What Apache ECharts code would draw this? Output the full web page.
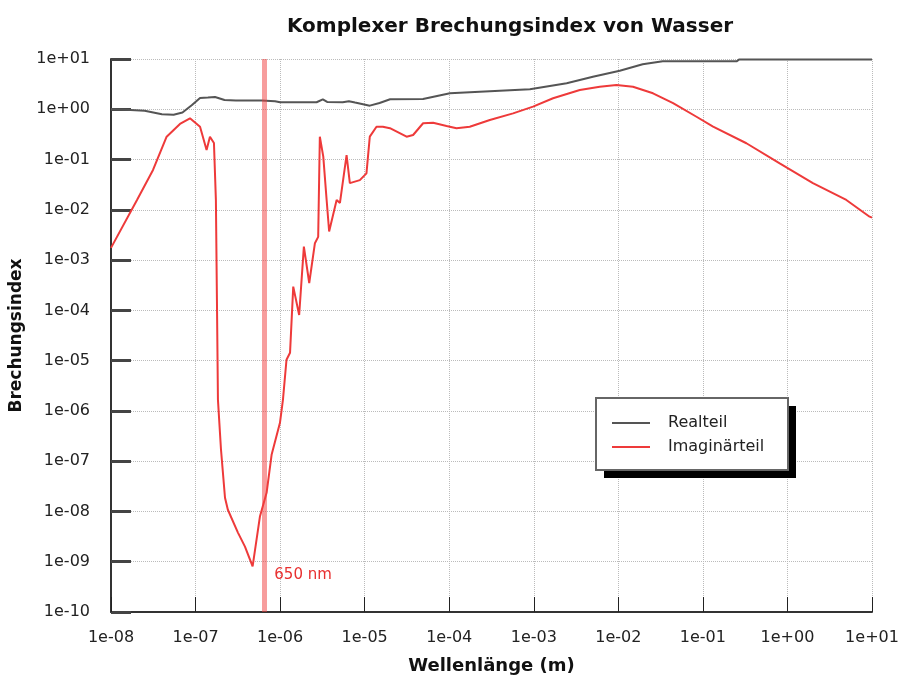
<!DOCTYPE html>
<html>
<head>
<meta charset="utf-8">
<script src="https://cdn.jsdelivr.net/npm/echarts@6/dist/echarts.min.js"></script>
<style>
  html, body { margin: 0; padding: 0; background: #fff; }
  #chart { width: 901px; height: 677px; }
</style>
</head>
<body>
<div id="chart"></div>
<script>
// Wellenlänge (m) / Realteil
const realX = [1e-8, 1.5e-8, 2.5e-8, 4.0e-8, 5.5e-8, 7.0e-8, 9.0e-8, 1.13e-7, 1.4e-7, 1.7e-7,
  2.2e-7, 3.0e-7, 6.0e-7, 8.7e-7, 1.0e-6, 2.7e-6, 3.2e-6, 3.6e-6, 5.5e-6, 6.5e-6,
  7.7e-6, 1.15e-5, 1.5e-5, 2.0e-5, 4.9e-5, 1.02e-4, 2.3e-4, 9.0e-4, 2.45e-3, 5.0e-3,
  1.04e-2, 1.94e-2, 3.35e-2, 0.25, 0.27, 10];
const realY = [1.0, 0.98, 0.93, 0.8, 0.78, 0.86, 1.2, 1.68, 1.72, 1.76,
  1.53, 1.49, 1.49, 1.45, 1.38, 1.38, 1.58, 1.4, 1.38, 1.45,
  1.36, 1.18, 1.33, 1.58, 1.6, 2.08, 2.24, 2.5, 3.29, 4.45,
  5.85, 7.85, 9.0, 9.0, 9.8, 9.8];

// Wellenlänge (m) / Imaginärteil
const imagX = [1e-8, 2.03e-8, 3.14e-8, 4.55e-8, 6.54e-8, 8.59e-8, 1.13e-7, 1.35e-7, 1.48e-7, 1.65e-7,
  1.74e-7, 1.79e-7, 1.84e-7, 2.0e-7, 2.23e-7, 2.41e-7, 3.17e-7, 3.84e-7, 4.73e-7, 5.77e-7,
  6.92e-7, 7.93e-7, 9.96e-7, 1.08e-6, 1.19e-6, 1.31e-6, 1.43e-6, 1.68e-6, 1.91e-6, 2.21e-6,
  2.58e-6, 2.82e-6, 2.95e-6, 3.24e-6, 3.55e-6, 3.8e-6, 4.66e-6, 5.1e-6, 6.11e-6, 6.68e-6,
  8.77e-6, 1.05e-5, 1.15e-5, 1.38e-5, 1.64e-5, 1.99e-5, 3.13e-5, 3.74e-5, 4.91e-5, 6.45e-5,
  9.3e-5, 1.22e-4, 1.75e-4, 3.02e-4, 5.69e-4, 9.8e-4, 1.69e-3, 3.5e-3, 6.03e-3, 9.5e-3,
  1.49e-2, 2.57e-2, 4.44e-2, 8.4e-2, 0.132, 0.327, 0.81, 2.0, 4.97, 9.37, 10];
const imagY = [1.75e-3, 1.57e-2, 6.2e-2, 0.285, 0.51, 0.66, 0.45, 0.155, 0.285, 0.214,
  1.57e-2, 1.6e-4, 1.66e-6, 1.69e-7, 1.87e-8, 1.08e-8, 3.8e-9, 2.0e-9, 8.1e-10, 7.9e-9,
  2.35e-8, 1.34e-7, 5.8e-7, 1.66e-6, 1.04e-5, 1.43e-5, 2.97e-4, 8.1e-5, 1.85e-3, 3.5e-4,
  2.17e-3, 2.9e-3, 0.285, 0.114, 1.57e-2, 3.7e-3, 1.57e-2, 1.37e-2, 0.123, 3.4e-2,
  3.9e-2, 5.3e-2, 0.285, 0.45, 0.45, 0.42, 0.285, 0.308, 0.527, 0.54,
  0.466, 0.42, 0.45, 0.61, 0.83, 1.13, 1.66, 2.42, 2.81, 3.04,
  2.81, 2.08, 1.32, 0.71, 0.45, 0.211, 8.4e-2, 3.4e-2, 1.57e-2, 7.3e-3, 7.0e-3];

const markerWavelength = 6.5e-7;
const markerLabel = '650 nm';
const yMin = 1e-10;
const yMax = 10;

const fontFamily = '"DejaVu Sans", Verdana, sans-serif';

const fmtExp = (v) => {
  const e = Math.round(Math.log10(v));
  return '1e' + (e < 0 ? '-' : '+') + String(Math.abs(e)).padStart(2, '0');
};

const pairs = (xs, ys) => xs.map((x, i) => [x, ys[i]]);

const chart = echarts.init(document.getElementById('chart'));

const option = {
  backgroundColor: '#fff',
  animation: false,
  title: {
    text: 'Komplexer Brechungsindex von Wasser',
    left: 505,
    textAlign: 'center',
    top: 12,
    textStyle: { fontFamily, fontSize: 20, fontWeight: 'bold', color: '#111' }
  },
  grid: { left: 111, right: 29, top: 59, bottom: 65, containLabel: false, outerBoundsMode: 'none' },
  // legend frame with its hard shadow
  graphic: [
    { type: 'rect', z: 10, shape: { x: 604, y: 406, width: 192, height: 72 }, style: { fill: '#000' } },
    { type: 'rect', z: 11, shape: { x: 596, y: 398, width: 192, height: 72 }, style: { fill: '#fff', stroke: '#666', lineWidth: 2 } }
  ],
  legend: {
    orient: 'vertical',
    left: 612,
    top: 415,
    z: 20,
    data: ['Realteil', 'Imaginärteil'],
    icon: 'rect',
    itemWidth: 38,
    itemHeight: 2,
    itemGap: 8,
    padding: 0,
    textStyle: { fontFamily, fontSize: 16, lineHeight: 16, color: '#222', padding: [0, 0, 0, 13] }
  },
  xAxis: {
    type: 'log',
    logBase: 10,
    min: 1e-8,
    max: 10,
    interval: 1,
    name: 'Wellenlänge (m)',
    nameLocation: 'middle',
    nameGap: 45,
    nameTextStyle: { fontFamily, fontSize: 18, fontWeight: 'bold', color: '#111' },
    axisLine: { lineStyle: { color: '#333', width: 2 } },
    axisTick: { inside: true, length: 15, lineStyle: { color: '#222', width: 1 } },
    axisLabel: { formatter: fmtExp, fontFamily, fontSize: 16, color: '#222', margin: 18 },
    splitLine: { show: true, lineStyle: { color: '#bbb', type: 'dotted', width: 1 } }
  },
  yAxis: {
    type: 'log',
    logBase: 10,
    min: yMin,
    max: yMax,
    interval: 1,
    name: 'Brechungsindex',
    nameLocation: 'middle',
    nameGap: 83,
    nameTextStyle: { fontFamily, fontSize: 17, fontWeight: 'bold', color: '#111' },
    axisLine: { show: true, lineStyle: { color: '#333', width: 2 } },
    axisTick: { show: true, inside: true, length: 20, lineStyle: { color: '#444', width: 3 } },
    axisLabel: { formatter: fmtExp, fontFamily, fontSize: 16, color: '#222', margin: 21 },
    splitLine: { show: true, lineStyle: { color: '#bbb', type: 'dotted', width: 1 } }
  },
  series: [
    {
      name: 'Realteil',
      type: 'line',
      data: pairs(realX, realY),
      showSymbol: false,
      color: '#555',
      lineStyle: { color: '#555', width: 2 },
      z: 3
    },
    {
      name: 'Imaginärteil',
      type: 'line',
      data: pairs(imagX, imagY),
      showSymbol: false,
      color: '#ee3a3a',
      lineStyle: { color: '#ee3a3a', width: 2 },
      z: 3,
      markLine: {
        silent: true,
        symbol: 'none',
        lineStyle: { color: 'rgba(240,60,60,0.5)', width: 5, type: 'solid' },
        label: { show: false },
        data: [[{ coord: [markerWavelength, yMin] }, { coord: [markerWavelength, yMax] }]]
      },
      markPoint: {
        silent: true,
        symbol: 'circle',
        symbolSize: 0,
        label: {
          show: true,
          position: 'right',
          distance: 10,
          formatter: markerLabel,
          fontFamily,
          fontSize: 15,
          color: '#e83030'
        },
        data: [{ coord: [markerWavelength, 5.5e-10] }]
      }
    }
  ]
};

chart.setOption(option);
</script>
</body>
</html>
